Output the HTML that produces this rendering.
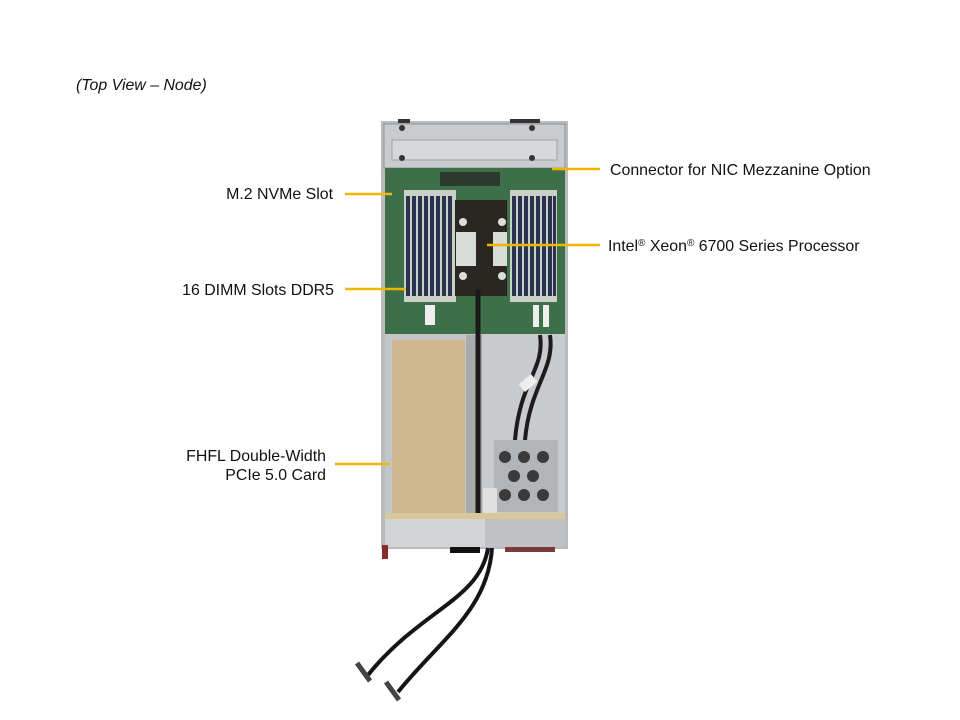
<!DOCTYPE html>
<html><head><meta charset="utf-8"><style>
html,body{margin:0;padding:0;background:#fff;}
svg{display:block;}
text{font-family:"Liberation Sans",Arial,sans-serif;font-size:15.9px;fill:#111;}
</style></head><body>
<svg width="960" height="720" viewBox="0 0 960 720" xmlns="http://www.w3.org/2000/svg">
<rect width="960" height="720" fill="#fff"/>
<text x="76" y="90" font-style="italic">(Top View – Node)</text>

<!-- chassis -->
<rect x="381" y="121" width="187" height="428" fill="#b9bcbf"/>
<rect x="384" y="124" width="181" height="44" fill="#c9cbce" stroke="#8e9194"/>
<rect x="392" y="140" width="165" height="20" fill="#d6d8da" stroke="#a0a3a6"/>
<circle cx="402" cy="128" r="3" fill="#333"/><circle cx="532" cy="128" r="3" fill="#333"/>
<circle cx="402" cy="158" r="3" fill="#333"/><circle cx="532" cy="158" r="3" fill="#333"/>
<rect x="398" y="119" width="12" height="4" fill="#333"/><rect x="510" y="119" width="30" height="4" fill="#333"/>
<!-- board -->
<rect x="385" y="168" width="180" height="166" fill="#3d6f48"/>
<rect x="440" y="172" width="60" height="14" fill="#2c3a30"/>
<!-- DIMM areas -->
<rect x="404" y="190" width="52" height="112" fill="#c9d1c7"/>
<rect x="510" y="190" width="47" height="112" fill="#c9d1c7"/>
<g fill="#2a3350">
<rect x="406" y="196" width="4" height="100"/><rect x="412" y="196" width="4" height="100"/>
<rect x="418" y="196" width="4" height="100"/><rect x="424" y="196" width="4" height="100"/>
<rect x="430" y="196" width="4" height="100"/><rect x="436" y="196" width="4" height="100"/>
<rect x="442" y="196" width="4" height="100"/><rect x="448" y="196" width="4" height="100"/>
<rect x="512" y="196" width="4" height="100"/><rect x="518" y="196" width="4" height="100"/>
<rect x="524" y="196" width="4" height="100"/><rect x="530" y="196" width="4" height="100"/>
<rect x="536" y="196" width="4" height="100"/><rect x="542" y="196" width="4" height="100"/>
<rect x="548" y="196" width="4" height="100"/><rect x="553" y="196" width="3" height="100"/>
</g>
<!-- CPU -->
<rect x="455" y="200" width="52" height="96" fill="#2a2622"/>
<rect x="456" y="232" width="20" height="34" fill="#d8dcd8"/>
<rect x="493" y="232" width="14" height="34" fill="#d8dcd8"/>
<circle cx="463" cy="222" r="4" fill="#ddd"/><circle cx="502" cy="222" r="4" fill="#ddd"/>
<circle cx="463" cy="276" r="4" fill="#ddd"/><circle cx="502" cy="276" r="4" fill="#ddd"/>
<rect x="425" y="305" width="10" height="20" fill="#eee"/><rect x="533" y="305" width="6" height="22" fill="#eee"/><rect x="543" y="305" width="6" height="22" fill="#eee"/>
<!-- lower sections -->
<rect x="385" y="334" width="100" height="180" fill="#c3c5c8"/>
<rect x="392" y="340" width="73" height="173" fill="#cfb88f"/>
<rect x="466" y="335" width="16" height="180" fill="#a8abae"/>
<rect x="483" y="334" width="82" height="180" fill="#c8cacd"/>
<path d="M478 290 L478 520" stroke="#1a1a1a" stroke-width="5" fill="none"/>
<path d="M540 335 C545 370 520 380 515 440 M550 335 C555 370 530 385 525 440" stroke="#1c1c1c" stroke-width="4" fill="none"/>
<rect x="520" y="378" width="16" height="10" fill="#eee" transform="rotate(-40 528 383)"/>
<!-- fan cage -->
<rect x="494" y="440" width="64" height="72" fill="#b2b5b8"/>
<g fill="#3a3a3a">
<circle cx="505" cy="457" r="6"/><circle cx="524" cy="457" r="6"/><circle cx="543" cy="457" r="6"/>
<circle cx="514" cy="476" r="6"/><circle cx="533" cy="476" r="6"/>
<circle cx="505" cy="495" r="6"/><circle cx="524" cy="495" r="6"/><circle cx="543" cy="495" r="6"/>
</g>
<rect x="483" y="488" width="14" height="30" fill="#e0e0e0"/>
<!-- front panel -->
<rect x="385" y="513" width="180" height="6" fill="#d9c99a"/>
<rect x="385" y="519" width="100" height="28" fill="#d2d4d6"/>
<rect x="485" y="519" width="80" height="28" fill="#bfc1c4"/>
<rect x="382" y="545" width="6" height="14" fill="#8a2a2a"/>
<rect x="450" y="547" width="30" height="6" fill="#111"/>
<rect x="505" y="547" width="50" height="5" fill="#7a3b3b"/>
<!-- cables -->
<path d="M488 548 C480 600 420 610 368 675" stroke="#151515" stroke-width="4" fill="none"/>
<path d="M492 548 C488 610 440 640 398 692" stroke="#151515" stroke-width="4" fill="none"/>
<path d="M357 663 L370 681 M386 682 L399 700" stroke="#444" stroke-width="5"/>

<!-- callout lines -->
<g stroke="#f2b600" stroke-width="2.5">
<line x1="552" y1="169" x2="600" y2="169"/>
<line x1="345" y1="194" x2="392" y2="194"/>
<line x1="487" y1="245" x2="600" y2="245"/>
<line x1="345" y1="289" x2="406" y2="289"/>
<line x1="335" y1="464" x2="390" y2="464"/>
</g>
<text x="610" y="175">Connector for NIC Mezzanine Option</text>
<text x="608" y="251">Intel<tspan font-size="10" dy="-5">®</tspan><tspan dy="5"> Xeon</tspan><tspan font-size="10" dy="-5">®</tspan><tspan dy="5"> 6700 Series Processor</tspan></text>
<text x="333" y="199" text-anchor="end">M.2 NVMe Slot</text>
<text x="334" y="295" text-anchor="end">16 DIMM Slots DDR5</text>
<text x="326" y="461" text-anchor="end">FHFL Double-Width</text>
<text x="326" y="480" text-anchor="end">PCIe 5.0 Card</text>
</svg>
</body></html>
